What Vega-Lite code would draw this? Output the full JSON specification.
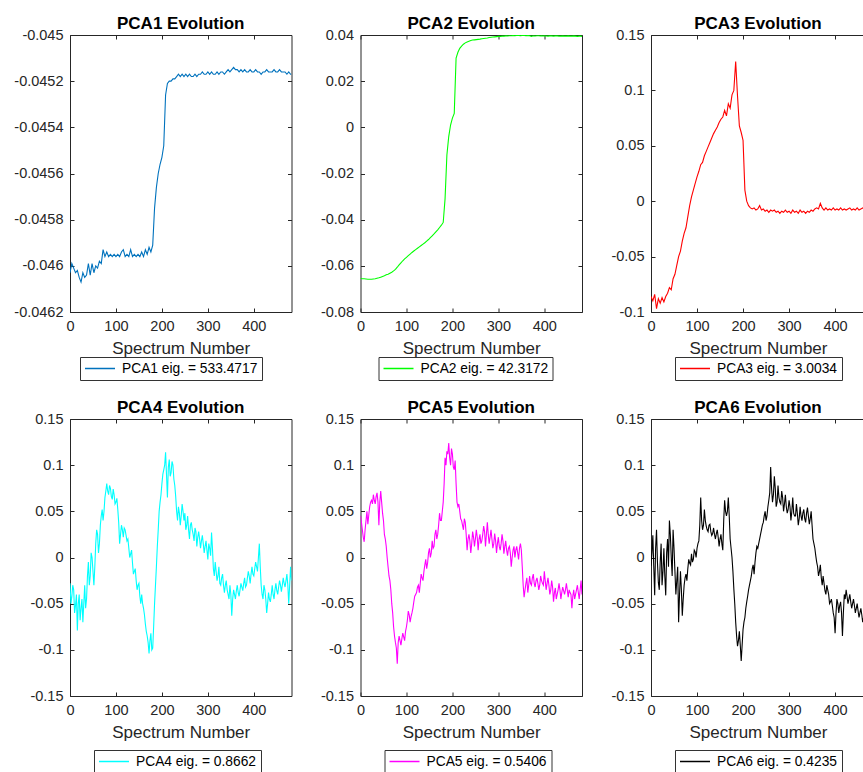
{
"$schema":"https://vega.github.io/schema/vega-lite/v6.json",
"padding":{"left":13,"top":15,"right":0,"bottom":0},
"config":{
"font":"Liberation Sans",
"view":{"stroke":null},
"axis":{"labelFont":"Liberation Sans","labelFontSize":14.5,"labelColor":"#262626","tickColor":"#262626","tickSize":-4,"tickWidth":1,"domainColor":"#262626","domainWidth":1,"grid":false,"titleFont":"Liberation Sans","titleFontSize":17,"titleFontWeight":"normal","titleColor":"#262626","labelFlush":false,"labelOverlap":false},
"axisX":{"labelPadding":11,"titlePadding":8},
"axisY":{"labelPadding":11},
"legend":{"labelFont":"Liberation Sans","labelFontSize":13.8,"labelColor":"#000000","symbolType":"stroke","symbolSize":900,"symbolStrokeWidth":1.5,"clipHeight":15,"padding":4,"strokeColor":"#333333","fillColor":"#ffffff","labelOffset":6,"labelLimit":400},
"title":{"font":"Liberation Sans","fontSize":17,"fontWeight":"bold","color":"#000000","anchor":"middle","frame":"group","offset":-6,"baseline":"alphabetic"}
},
"data":{"values":[
{"x":0,"a":-0.04603,"b":-0.0655,"c":-0.086,"d":-0.028,"e":0.045,"f":-0.009},
{"x":4,"a":-0.04599,"b":-0.0656,"c":-0.090,"d":-0.042,"e":0.030,"f":0.024},
{"x":8,"a":-0.04601,"b":-0.0656,"c":-0.084,"d":-0.035,"e":0.017,"f":-0.041},
{"x":12,"a":-0.04603,"b":-0.0657,"c":-0.097,"d":-0.052,"e":0.040,"f":0.030},
{"x":16,"a":-0.04602,"b":-0.0658,"c":-0.088,"d":-0.079,"e":0.036,"f":-0.027},
{"x":20,"a":-0.04605,"b":-0.0658,"c":-0.092,"d":-0.040,"e":0.055,"f":-0.005},
{"x":24,"a":-0.04607,"b":-0.0658,"c":-0.087,"d":-0.055,"e":0.062,"f":-0.030},
{"x":28,"a":-0.04603,"b":-0.0657,"c":-0.091,"d":-0.070,"e":0.068,"f":0.010},
{"x":32,"a":-0.04605,"b":-0.0656,"c":-0.086,"d":-0.030,"e":0.058,"f":-0.041},
{"x":36,"a":-0.04604,"b":-0.0654,"c":-0.083,"d":-0.045,"e":0.070,"f":0.020},
{"x":40,"a":-0.04599,"b":-0.0652,"c":-0.078,"d":-0.005,"e":0.035,"f":0.040},
{"x":44,"a":-0.04604,"b":-0.0649,"c":-0.080,"d":-0.020,"e":0.072,"f":0.000},
{"x":48,"a":-0.04599,"b":-0.0646,"c":-0.070,"d":0.000,"e":0.048,"f":0.030},
{"x":52,"a":-0.04603,"b":-0.0643,"c":-0.066,"d":-0.030,"e":0.025,"f":-0.015},
{"x":56,"a":-0.04600,"b":-0.0639,"c":-0.058,"d":0.015,"e":0.012,"f":-0.025},
{"x":60,"a":-0.04601,"b":-0.0636,"c":-0.050,"d":0.025,"e":-0.010,"f":-0.070},
{"x":64,"a":-0.04598,"b":-0.0632,"c":-0.045,"d":0.015,"e":-0.025,"f":-0.015},
{"x":68,"a":-0.04599,"b":-0.0628,"c":-0.036,"d":0.045,"e":-0.050,"f":-0.063},
{"x":72,"a":-0.04593,"b":-0.0622,"c":-0.029,"d":0.040,"e":-0.075,"f":-0.030},
{"x":76,"a":-0.04596,"b":-0.0615,"c":-0.024,"d":0.065,"e":-0.092,"f":-0.018},
{"x":80,"a":-0.04594,"b":-0.0606,"c":-0.014,"d":0.080,"e":-0.115,"f":-0.012},
{"x":84,"a":-0.04596,"b":-0.0596,"c":-0.004,"d":0.068,"e":-0.085,"f":-0.006},
{"x":88,"a":-0.04595,"b":-0.0587,"c":0.004,"d":0.075,"e":-0.095,"f":0.004},
{"x":92,"a":-0.04596,"b":-0.0578,"c":0.010,"d":0.063,"e":-0.082,"f":-0.002},
{"x":96,"a":-0.04595,"b":-0.0570,"c":0.016,"d":0.068,"e":-0.090,"f":0.006},
{"x":100,"a":-0.04596,"b":-0.0563,"c":0.022,"d":0.060,"e":-0.075,"f":0.010},
{"x":104,"a":-0.04595,"b":-0.0556,"c":0.027,"d":0.052,"e":-0.058,"f":0.018},
{"x":108,"a":-0.04596,"b":-0.0549,"c":0.033,"d":0.015,"e":-0.070,"f":0.065},
{"x":112,"a":-0.04594,"b":-0.0542,"c":0.035,"d":0.035,"e":-0.060,"f":0.030},
{"x":116,"a":-0.04593,"b":-0.0536,"c":0.041,"d":0.022,"e":-0.048,"f":0.052},
{"x":120,"a":-0.04596,"b":-0.0530,"c":0.045,"d":0.030,"e":-0.040,"f":0.034},
{"x":124,"a":-0.04595,"b":-0.0524,"c":0.049,"d":0.018,"e":-0.032,"f":0.028},
{"x":128,"a":-0.04596,"b":-0.0518,"c":0.053,"d":0.010,"e":-0.038,"f":0.036},
{"x":132,"a":-0.04593,"b":-0.0512,"c":0.057,"d":0.004,"e":-0.018,"f":0.024},
{"x":136,"a":-0.04596,"b":-0.0506,"c":0.061,"d":-0.006,"e":-0.025,"f":0.032},
{"x":140,"a":-0.04595,"b":-0.0500,"c":0.064,"d":-0.015,"e":-0.008,"f":0.020},
{"x":144,"a":-0.04596,"b":-0.0493,"c":0.067,"d":-0.025,"e":-0.012,"f":0.030},
{"x":148,"a":-0.04595,"b":-0.0486,"c":0.071,"d":-0.030,"e":0.005,"f":0.012},
{"x":152,"a":-0.04596,"b":-0.0478,"c":0.074,"d":-0.042,"e":0.000,"f":0.025},
{"x":156,"a":-0.04594,"b":-0.0470,"c":0.076,"d":-0.040,"e":0.018,"f":0.008},
{"x":160,"a":-0.04596,"b":-0.0462,"c":0.082,"d":-0.055,"e":0.012,"f":0.062},
{"x":164,"a":-0.04593,"b":-0.0453,"c":0.077,"d":-0.072,"e":0.030,"f":0.045},
{"x":168,"a":-0.04595,"b":-0.0444,"c":0.088,"d":-0.085,"e":0.025,"f":0.065},
{"x":172,"a":-0.04592,"b":-0.0434,"c":0.084,"d":-0.104,"e":0.048,"f":0.020},
{"x":176,"a":-0.04594,"b":-0.0424,"c":0.096,"d":-0.082,"e":0.040,"f":0.000},
{"x":180,"a":-0.04591,"b":-0.0412,"c":0.100,"d":-0.098,"e":0.060,"f":-0.034},
{"x":184,"a":-0.04575,"b":-0.0310,"c":0.126,"d":-0.050,"e":0.108,"f":-0.070},
{"x":188,"a":-0.04566,"b":-0.0120,"c":0.095,"d":-0.010,"e":0.115,"f":-0.096},
{"x":192,"a":-0.04560,"b":-0.0040,"c":0.068,"d":0.030,"e":0.124,"f":-0.080},
{"x":196,"a":-0.04556,"b":0.0010,"c":0.062,"d":0.060,"e":0.100,"f":-0.112},
{"x":200,"a":-0.04553,"b":0.0040,"c":0.055,"d":0.080,"e":0.112,"f":-0.078},
{"x":204,"a":-0.04548,"b":0.0060,"c":0.010,"d":0.095,"e":0.095,"f":-0.065},
{"x":208,"a":-0.04526,"b":0.0300,"c":0.000,"d":0.114,"e":0.080,"f":-0.048},
{"x":212,"a":-0.04521,"b":0.0325,"c":-0.004,"d":0.065,"e":0.055,"f":-0.035},
{"x":216,"a":-0.04520,"b":0.0342,"c":-0.006,"d":0.106,"e":0.050,"f":-0.025},
{"x":220,"a":-0.04520,"b":0.0352,"c":-0.007,"d":0.092,"e":0.040,"f":-0.012},
{"x":224,"a":-0.04519,"b":0.0360,"c":-0.006,"d":0.100,"e":0.030,"f":-0.018},
{"x":228,"a":-0.04519,"b":0.0366,"c":-0.008,"d":0.078,"e":0.038,"f":0.005},
{"x":232,"a":-0.04518,"b":0.0370,"c":-0.007,"d":0.050,"e":0.008,"f":0.010},
{"x":236,"a":-0.04517,"b":0.0373,"c":-0.004,"d":0.055,"e":0.025,"f":0.020},
{"x":240,"a":-0.04518,"b":0.0376,"c":-0.008,"d":0.035,"e":0.005,"f":0.030},
{"x":244,"a":-0.04517,"b":0.0378,"c":-0.007,"d":0.058,"e":0.028,"f":0.038},
{"x":248,"a":-0.04518,"b":0.0379,"c":-0.009,"d":0.040,"e":0.012,"f":0.050},
{"x":252,"a":-0.04517,"b":0.0380,"c":-0.008,"d":0.030,"e":0.030,"f":0.045},
{"x":256,"a":-0.04518,"b":0.0381,"c":-0.010,"d":0.045,"e":0.008,"f":0.062},
{"x":260,"a":-0.04517,"b":0.0382,"c":-0.008,"d":0.020,"e":0.025,"f":0.098},
{"x":264,"a":-0.04518,"b":0.0384,"c":-0.009,"d":0.038,"e":0.018,"f":0.060},
{"x":268,"a":-0.04518,"b":0.0385,"c":-0.008,"d":0.025,"e":0.034,"f":0.088},
{"x":272,"a":-0.04517,"b":0.0386,"c":-0.010,"d":0.032,"e":0.012,"f":0.055},
{"x":276,"a":-0.04518,"b":0.0387,"c":-0.009,"d":0.012,"e":0.038,"f":0.078},
{"x":280,"a":-0.04517,"b":0.0389,"c":-0.011,"d":0.028,"e":0.015,"f":0.060},
{"x":284,"a":-0.04517,"b":0.0390,"c":-0.009,"d":0.010,"e":0.030,"f":0.072},
{"x":288,"a":-0.04516,"b":0.0391,"c":-0.010,"d":0.024,"e":0.010,"f":0.050},
{"x":292,"a":-0.04517,"b":0.0392,"c":-0.008,"d":0.005,"e":0.026,"f":0.068},
{"x":296,"a":-0.04517,"b":0.0393,"c":-0.010,"d":0.018,"e":0.005,"f":0.048},
{"x":300,"a":-0.04516,"b":0.0394,"c":-0.009,"d":-0.002,"e":0.022,"f":0.062},
{"x":304,"a":-0.04517,"b":0.0394,"c":-0.011,"d":0.010,"e":0.008,"f":0.040},
{"x":308,"a":-0.04516,"b":0.0395,"c":-0.008,"d":0.027,"e":0.025,"f":0.065},
{"x":312,"a":-0.04517,"b":0.0395,"c":-0.010,"d":-0.012,"e":0.004,"f":0.045},
{"x":316,"a":-0.04517,"b":0.0396,"c":-0.009,"d":-0.005,"e":0.018,"f":0.058},
{"x":320,"a":-0.04516,"b":0.0396,"c":-0.011,"d":-0.025,"e":0.002,"f":0.035},
{"x":324,"a":-0.04517,"b":0.0397,"c":-0.008,"d":-0.010,"e":0.012,"f":0.055},
{"x":328,"a":-0.04516,"b":0.0397,"c":-0.010,"d":-0.030,"e":-0.010,"f":0.040},
{"x":332,"a":-0.04516,"b":0.0398,"c":-0.009,"d":-0.018,"e":0.008,"f":0.052},
{"x":336,"a":-0.04517,"b":0.0397,"c":-0.011,"d":-0.038,"e":0.000,"f":0.038},
{"x":340,"a":-0.04516,"b":0.0398,"c":-0.009,"d":-0.025,"e":0.012,"f":0.054},
{"x":344,"a":-0.04515,"b":0.0398,"c":-0.010,"d":-0.040,"e":-0.002,"f":0.036},
{"x":348,"a":-0.04516,"b":0.0397,"c":-0.008,"d":-0.030,"e":0.015,"f":0.050},
{"x":352,"a":-0.04515,"b":0.0398,"c":-0.009,"d":-0.063,"e":-0.010,"f":0.020},
{"x":356,"a":-0.04514,"b":0.0398,"c":-0.007,"d":-0.035,"e":-0.043,"f":0.010},
{"x":360,"a":-0.04515,"b":0.0397,"c":-0.006,"d":-0.045,"e":-0.028,"f":-0.005},
{"x":364,"a":-0.04515,"b":0.0398,"c":-0.007,"d":-0.030,"e":-0.038,"f":-0.020},
{"x":368,"a":-0.04516,"b":0.0397,"c":-0.002,"d":-0.042,"e":-0.020,"f":-0.008},
{"x":372,"a":-0.04515,"b":0.0394,"c":-0.006,"d":-0.028,"e":-0.030,"f":-0.030},
{"x":376,"a":-0.04516,"b":0.0397,"c":-0.008,"d":-0.036,"e":-0.018,"f":-0.028},
{"x":380,"a":-0.04515,"b":0.0396,"c":-0.006,"d":-0.022,"e":-0.032,"f":-0.040},
{"x":384,"a":-0.04516,"b":0.0397,"c":-0.008,"d":-0.030,"e":-0.022,"f":-0.035},
{"x":388,"a":-0.04516,"b":0.0397,"c":-0.007,"d":-0.015,"e":-0.035,"f":-0.050},
{"x":392,"a":-0.04515,"b":0.0396,"c":-0.008,"d":-0.028,"e":-0.020,"f":-0.045},
{"x":396,"a":-0.04516,"b":0.0396,"c":-0.006,"d":-0.010,"e":-0.028,"f":-0.060},
{"x":400,"a":-0.04516,"b":0.0397,"c":-0.008,"d":-0.020,"e":-0.015,"f":-0.082},
{"x":404,"a":-0.04515,"b":0.0396,"c":-0.007,"d":-0.005,"e":-0.035,"f":-0.045},
{"x":408,"a":-0.04516,"b":0.0395,"c":-0.008,"d":-0.015,"e":-0.022,"f":-0.060},
{"x":412,"a":-0.04516,"b":0.0396,"c":-0.006,"d":0.015,"e":-0.040,"f":-0.048},
{"x":416,"a":-0.04517,"b":0.0396,"c":-0.008,"d":-0.030,"e":-0.025,"f":-0.085},
{"x":420,"a":-0.04516,"b":0.0395,"c":-0.007,"d":-0.045,"e":-0.048,"f":-0.040},
{"x":424,"a":-0.04516,"b":0.0396,"c":-0.008,"d":-0.035,"e":-0.033,"f":-0.035},
{"x":428,"a":-0.04515,"b":0.0396,"c":-0.007,"d":-0.060,"e":-0.040,"f":-0.050},
{"x":432,"a":-0.04516,"b":0.0395,"c":-0.006,"d":-0.038,"e":-0.028,"f":-0.040},
{"x":436,"a":-0.04516,"b":0.0395,"c":-0.008,"d":-0.048,"e":-0.045,"f":-0.055},
{"x":440,"a":-0.04516,"b":0.0396,"c":-0.007,"d":-0.030,"e":-0.032,"f":-0.045},
{"x":444,"a":-0.04515,"b":0.0395,"c":-0.008,"d":-0.045,"e":-0.040,"f":-0.060},
{"x":448,"a":-0.04516,"b":0.0395,"c":-0.006,"d":-0.028,"e":-0.028,"f":-0.050},
{"x":452,"a":-0.04516,"b":0.0396,"c":-0.008,"d":-0.040,"e":-0.043,"f":-0.065},
{"x":456,"a":-0.04515,"b":0.0395,"c":-0.007,"d":-0.025,"e":-0.038,"f":-0.055},
{"x":460,"a":-0.04516,"b":0.0395,"c":-0.006,"d":-0.037,"e":-0.055,"f":-0.070},
{"x":464,"a":-0.04516,"b":0.0396,"c":-0.008,"d":-0.022,"e":-0.035,"f":-0.060},
{"x":468,"a":-0.04516,"b":0.0395,"c":-0.007,"d":-0.032,"e":-0.040,"f":-0.068},
{"x":472,"a":-0.04517,"b":0.0394,"c":-0.008,"d":-0.018,"e":-0.030,"f":-0.058},
{"x":476,"a":-0.04516,"b":0.0395,"c":-0.007,"d":-0.050,"e":-0.045,"f":-0.066},
{"x":480,"a":-0.04517,"b":0.0395,"c":-0.007,"d":-0.010,"e":-0.025,"f":-0.062},
{"x":482,"a":-0.04517,"b":0.0394,"c":-0.008,"d":-0.025,"e":-0.040,"f":-0.065},
{"x":2,"d":-0.050,"e":0.038,"f":0.005},
{"x":6,"d":-0.030,"e":0.022,"f":-0.010},
{"x":10,"d":-0.060,"e":0.030,"f":0.010},
{"x":14,"d":-0.040,"e":0.050,"f":-0.005},
{"x":18,"d":-0.050,"e":0.046,"f":-0.035},
{"x":22,"d":-0.068,"e":0.060,"f":0.015},
{"x":26,"d":-0.045,"e":0.058,"f":-0.015},
{"x":30,"d":-0.050,"e":0.062,"f":-0.020},
{"x":34,"d":-0.055,"e":0.066,"f":0.005},
{"x":38,"d":-0.020,"e":0.060,"f":-0.010},
{"x":42,"d":-0.030,"e":0.060,"f":0.025},
{"x":46,"d":0.005,"e":0.060,"f":-0.020},
{"x":50,"d":-0.015,"e":0.040,"f":0.010},
{"x":54,"d":-0.010,"e":0.020,"f":-0.040},
{"x":58,"d":0.030,"e":0.000,"f":-0.010},
{"x":62,"d":0.005,"e":-0.020,"f":-0.040},
{"x":66,"d":0.035,"e":-0.035,"f":-0.035},
{"x":70,"d":0.052,"e":-0.060,"f":-0.045},
{"x":74,"d":0.050,"e":-0.085,"f":-0.022},
{"x":78,"d":0.072,"e":-0.098,"f":-0.025},
{"x":82,"d":0.072,"e":-0.092,"f":-0.002},
{"x":86,"d":0.078,"e":-0.090,"f":-0.008},
{"x":90,"d":0.066,"e":-0.088,"f":-0.005},
{"x":94,"d":0.074,"e":-0.086,"f":0.008},
{"x":98,"d":0.058,"e":-0.080,"f":0.000},
{"x":102,"d":0.064,"e":-0.068,"f":0.015},
{"x":106,"d":0.038,"e":-0.062,"f":0.035},
{"x":110,"d":0.025,"e":-0.064,"f":0.040},
{"x":114,"d":0.030,"e":-0.055,"f":0.035},
{"x":118,"d":0.032,"e":-0.042,"f":0.040},
{"x":122,"d":0.024,"e":-0.038,"f":0.030},
{"x":126,"d":0.020,"e":-0.030,"f":0.035},
{"x":130,"d":0.000,"e":-0.028,"f":0.028},
{"x":134,"d":0.008,"e":-0.022,"f":0.026},
{"x":138,"d":-0.018,"e":-0.015,"f":0.025},
{"x":142,"d":-0.012,"e":-0.002,"f":0.026},
{"x":146,"d":-0.035,"e":-0.006,"f":0.022},
{"x":150,"d":-0.028,"e":0.010,"f":0.020},
{"x":154,"d":-0.050,"e":0.005,"f":0.015},
{"x":158,"d":-0.050,"e":0.010,"f":0.040},
{"x":162,"d":-0.062,"e":0.025,"f":0.050},
{"x":166,"d":-0.080,"e":0.020,"f":0.050},
{"x":170,"d":-0.092,"e":0.035,"f":0.045},
{"x":174,"d":-0.090,"e":0.040,"f":0.010},
{"x":178,"d":-0.100,"e":0.050,"f":-0.015},
{"x":182,"d":-0.075,"e":0.080,"f":-0.050},
{"x":186,"d":-0.030,"e":0.100,"f":-0.085},
{"x":190,"d":0.012,"e":0.112,"f":-0.090},
{"x":194,"d":0.050,"e":0.108,"f":-0.095},
{"x":198,"d":0.068,"e":0.118,"f":-0.095},
{"x":202,"d":0.090,"e":0.098,"f":-0.070},
{"x":206,"d":0.100,"e":0.105,"f":-0.055},
{"x":210,"d":0.090,"e":0.060,"f":-0.042},
{"x":214,"d":0.098,"e":0.058,"f":-0.030},
{"x":218,"d":0.088,"e":0.042,"f":-0.020},
{"x":222,"d":0.104,"e":0.035,"f":-0.008},
{"x":226,"d":0.085,"e":0.042,"f":-0.005},
{"x":230,"d":0.066,"e":0.025,"f":0.012},
{"x":234,"d":0.040,"e":0.020,"f":0.015},
{"x":238,"d":0.048,"e":0.018,"f":0.025},
{"x":242,"d":0.045,"e":0.015,"f":0.035},
{"x":246,"d":0.050,"e":0.022,"f":0.045},
{"x":250,"d":0.048,"e":0.020,"f":0.040},
{"x":254,"d":0.035,"e":0.022,"f":0.055},
{"x":258,"d":0.030,"e":0.020,"f":0.070},
{"x":262,"d":0.035,"e":0.015,"f":0.075},
{"x":266,"d":0.030,"e":0.025,"f":0.068},
{"x":270,"d":0.018,"e":0.028,"f":0.075},
{"x":274,"d":0.028,"e":0.025,"f":0.060},
{"x":278,"d":0.022,"e":0.025,"f":0.065},
{"x":282,"d":0.020,"e":0.022,"f":0.058},
{"x":286,"d":0.018,"e":0.020,"f":0.065},
{"x":290,"d":0.015,"e":0.015,"f":0.058},
{"x":294,"d":0.012,"e":0.018,"f":0.055},
{"x":298,"d":0.008,"e":0.015,"f":0.052},
{"x":302,"d":0.015,"e":0.012,"f":0.055},
{"x":306,"d":0.002,"e":0.015,"f":0.050},
{"x":310,"d":0.010,"e":0.018,"f":0.048},
{"x":314,"d":-0.020,"e":0.012,"f":0.045},
{"x":318,"d":-0.015,"e":0.008,"f":0.048},
{"x":322,"d":-0.020,"e":0.010,"f":0.042},
{"x":326,"d":-0.028,"e":0.005,"f":0.045},
{"x":330,"d":-0.022,"e":0.000,"f":0.048},
{"x":334,"d":-0.030,"e":0.012,"f":0.042},
{"x":338,"d":-0.030,"e":0.008,"f":0.048},
{"x":342,"d":-0.035,"e":0.005,"f":0.045},
{"x":346,"d":-0.045,"e":0.010,"f":0.042},
{"x":350,"d":-0.040,"e":0.008,"f":0.035},
{"x":354,"d":-0.045,"e":-0.030,"f":0.015},
{"x":358,"d":-0.040,"e":-0.035,"f":0.002},
{"x":362,"d":-0.036,"e":-0.022,"f":-0.010},
{"x":366,"d":-0.038,"e":-0.030,"f":-0.015},
{"x":370,"d":-0.035,"e":-0.028,"f":-0.022},
{"x":374,"d":-0.032,"e":-0.022,"f":-0.020},
{"x":378,"d":-0.028,"e":-0.028,"f":-0.036},
{"x":382,"d":-0.032,"e":-0.025,"f":-0.030},
{"x":386,"d":-0.022,"e":-0.028,"f":-0.040},
{"x":390,"d":-0.020,"e":-0.030,"f":-0.048},
{"x":394,"d":-0.018,"e":-0.025,"f":-0.052},
{"x":398,"d":-0.018,"e":-0.030,"f":-0.065},
{"x":402,"d":-0.012,"e":-0.025,"f":-0.060},
{"x":406,"d":-0.010,"e":-0.028,"f":-0.050},
{"x":410,"d":0.000,"e":-0.030,"f":-0.052},
{"x":414,"d":-0.010,"e":-0.035,"f":-0.060},
{"x":418,"d":-0.040,"e":-0.032,"f":-0.060},
{"x":422,"d":-0.030,"e":-0.038,"f":-0.045},
{"x":426,"d":-0.045,"e":-0.045,"f":-0.042},
{"x":430,"d":-0.050,"e":-0.035,"f":-0.045},
{"x":434,"d":-0.045,"e":-0.035,"f":-0.048},
{"x":438,"d":-0.040,"e":-0.038,"f":-0.050},
{"x":442,"d":-0.040,"e":-0.036,"f":-0.052},
{"x":446,"d":-0.035,"e":-0.035,"f":-0.055},
{"x":450,"d":-0.036,"e":-0.035,"f":-0.058},
{"x":454,"d":-0.032,"e":-0.035,"f":-0.060},
{"x":458,"d":-0.030,"e":-0.040,"f":-0.062},
{"x":462,"d":-0.030,"e":-0.042,"f":-0.065},
{"x":466,"d":-0.028,"e":-0.045,"f":-0.062},
{"x":470,"d":-0.025,"e":-0.035,"f":-0.063},
{"x":474,"d":-0.030,"e":-0.038,"f":-0.062},
{"x":478,"d":-0.030,"e":-0.035,"f":-0.064}
]},
"columns":3,
"bounds":"flush",
"spacing":{"row":107,"column":68.5},
"resolve":{"scale":{"x":"independent","y":"independent","color":"independent"},"axis":{"x":"independent","y":"independent"},"legend":{"color":"independent"}},
"concat":[
{"width":221.5,"height":277,"title":"PCA1 Evolution",
"transform":[{"filter":"isValid(datum.a)"}],
"resolve":{"axis":{"x":"independent","y":"independent"}},
"layer":[
{"mark":{"type":"line","strokeWidth":1.1,"clip":true},
"encoding":{
"x":{"field":"x","type":"quantitative","scale":{"domain":[0,482],"nice":false,"zero":false},"axis":{"orient":"bottom","values":[0,100,200,300,400],"title":"Spectrum Number"}},
"y":{"field":"a","type":"quantitative","scale":{"domain":[-0.0462,-0.045],"nice":false,"zero":false},"axis":{"orient":"left","values":[-0.0462,-0.046,-0.0458,-0.0456,-0.0454,-0.0452,-0.045],"title":null,"labelExpr":"replace(format(datum.value,'.4~f'),'\u2212','-')"}},
"color":{"datum":"PCA1 eig. = 533.4717","type":"nominal","scale":{"range":["#0072BD"]},"legend":{"orient":"none","legendX":10,"legendY":322,"title":null}}}},
{"mark":{"type":"line","opacity":0},
"encoding":{
"x":{"field":"x","type":"quantitative","axis":{"orient":"top","values":[0,100,200,300,400],"labels":false,"title":null}},
"y":{"field":"a","type":"quantitative","axis":{"orient":"right","values":[-0.0462,-0.046,-0.0458,-0.0456,-0.0454,-0.0452,-0.045],"labels":false,"title":null}}}}
]},
{"width":221.5,"height":277,"title":"PCA2 Evolution",
"transform":[{"filter":"isValid(datum.b)"}],
"resolve":{"axis":{"x":"independent","y":"independent"}},
"layer":[
{"mark":{"type":"line","strokeWidth":1.1,"clip":true},
"encoding":{
"x":{"field":"x","type":"quantitative","scale":{"domain":[0,482],"nice":false,"zero":false},"axis":{"orient":"bottom","values":[0,100,200,300,400],"title":"Spectrum Number"}},
"y":{"field":"b","type":"quantitative","scale":{"domain":[-0.08,0.04],"nice":false,"zero":false},"axis":{"orient":"left","values":[-0.08,-0.06,-0.04,-0.02,0,0.02,0.04],"title":null,"labelExpr":"replace(format(datum.value,'.2~f'),'\u2212','-')"}},
"color":{"datum":"PCA2 eig. = 42.3172","type":"nominal","scale":{"range":["#00FF00"]},"legend":{"orient":"none","legendX":18,"legendY":322,"title":null}}}},
{"mark":{"type":"line","opacity":0},
"encoding":{
"x":{"field":"x","type":"quantitative","axis":{"orient":"top","values":[0,100,200,300,400],"labels":false,"title":null}},
"y":{"field":"b","type":"quantitative","axis":{"orient":"right","values":[-0.08,-0.06,-0.04,-0.02,0,0.02,0.04],"labels":false,"title":null}}}}
]},
{"width":214,"height":277,"title":"PCA3 Evolution",
"transform":[{"filter":"isValid(datum.c)"}],
"resolve":{"axis":{"x":"independent","y":"independent"}},
"layer":[
{"mark":{"type":"line","strokeWidth":1.1,"clip":true},
"encoding":{
"x":{"field":"x","type":"quantitative","scale":{"domain":[0,465],"nice":false,"zero":false},"axis":{"orient":"bottom","values":[0,100,200,300,400],"title":"Spectrum Number"}},
"y":{"field":"c","type":"quantitative","scale":{"domain":[-0.1,0.15],"nice":false,"zero":false},"axis":{"orient":"left","values":[-0.1,-0.05,0,0.05,0.1,0.15],"title":null,"labelExpr":"replace(format(datum.value,'.2~f'),'\u2212','-')"}},
"color":{"datum":"PCA3 eig. = 3.0034","type":"nominal","scale":{"range":["#FF0000"]},"legend":{"orient":"none","legendX":24,"legendY":322,"title":null}}}},
{"mark":{"type":"line","opacity":0},
"encoding":{
"x":{"field":"x","type":"quantitative","axis":{"orient":"top","values":[0,100,200,300,400],"labels":false,"title":null}},
"y":{"field":"c","type":"quantitative","axis":null}}}
]},
{"width":221.5,"height":277,"title":"PCA4 Evolution",
"resolve":{"axis":{"x":"independent","y":"independent"}},
"layer":[
{"mark":{"type":"line","strokeWidth":1.1,"clip":true},
"encoding":{
"x":{"field":"x","type":"quantitative","scale":{"domain":[0,482],"nice":false,"zero":false},"axis":{"orient":"bottom","values":[0,100,200,300,400],"title":"Spectrum Number"}},
"y":{"field":"d","type":"quantitative","scale":{"domain":[-0.15,0.15],"nice":false,"zero":false},"axis":{"orient":"left","values":[-0.15,-0.1,-0.05,0,0.05,0.1,0.15],"title":null,"labelExpr":"replace(format(datum.value,'.2~f'),'\u2212','-')"}},
"color":{"datum":"PCA4 eig. = 0.8662","type":"nominal","scale":{"range":["#00FFFF"]},"legend":{"orient":"none","legendX":24,"legendY":331,"title":null}}}},
{"mark":{"type":"line","opacity":0},
"encoding":{
"x":{"field":"x","type":"quantitative","axis":{"orient":"top","values":[0,100,200,300,400],"labels":false,"title":null}},
"y":{"field":"d","type":"quantitative","axis":{"orient":"right","values":[-0.15,-0.1,-0.05,0,0.05,0.1,0.15],"labels":false,"title":null}}}}
]},
{"width":221.5,"height":277,"title":"PCA5 Evolution",
"resolve":{"axis":{"x":"independent","y":"independent"}},
"layer":[
{"mark":{"type":"line","strokeWidth":1.1,"clip":true},
"encoding":{
"x":{"field":"x","type":"quantitative","scale":{"domain":[0,482],"nice":false,"zero":false},"axis":{"orient":"bottom","values":[0,100,200,300,400],"title":"Spectrum Number"}},
"y":{"field":"e","type":"quantitative","scale":{"domain":[-0.15,0.15],"nice":false,"zero":false},"axis":{"orient":"left","values":[-0.15,-0.1,-0.05,0,0.05,0.1,0.15],"title":null,"labelExpr":"replace(format(datum.value,'.2~f'),'\u2212','-')"}},
"color":{"datum":"PCA5 eig. = 0.5406","type":"nominal","scale":{"range":["#FF00FF"]},"legend":{"orient":"none","legendX":24,"legendY":331,"title":null}}}},
{"mark":{"type":"line","opacity":0},
"encoding":{
"x":{"field":"x","type":"quantitative","axis":{"orient":"top","values":[0,100,200,300,400],"labels":false,"title":null}},
"y":{"field":"e","type":"quantitative","axis":{"orient":"right","values":[-0.15,-0.1,-0.05,0,0.05,0.1,0.15],"labels":false,"title":null}}}}
]},
{"width":214,"height":277,"title":"PCA6 Evolution",
"resolve":{"axis":{"x":"independent","y":"independent"}},
"layer":[
{"mark":{"type":"line","strokeWidth":1.1,"clip":true},
"encoding":{
"x":{"field":"x","type":"quantitative","scale":{"domain":[0,465],"nice":false,"zero":false},"axis":{"orient":"bottom","values":[0,100,200,300,400],"title":"Spectrum Number"}},
"y":{"field":"f","type":"quantitative","scale":{"domain":[-0.15,0.15],"nice":false,"zero":false},"axis":{"orient":"left","values":[-0.15,-0.1,-0.05,0,0.05,0.1,0.15],"title":null,"labelExpr":"replace(format(datum.value,'.2~f'),'\u2212','-')"}},
"color":{"datum":"PCA6 eig. = 0.4235","type":"nominal","scale":{"range":["#000000"]},"legend":{"orient":"none","legendX":24,"legendY":331,"title":null}}}},
{"mark":{"type":"line","opacity":0},
"encoding":{
"x":{"field":"x","type":"quantitative","axis":{"orient":"top","values":[0,100,200,300,400],"labels":false,"title":null}},
"y":{"field":"f","type":"quantitative","axis":null}}}
]}
]
}
